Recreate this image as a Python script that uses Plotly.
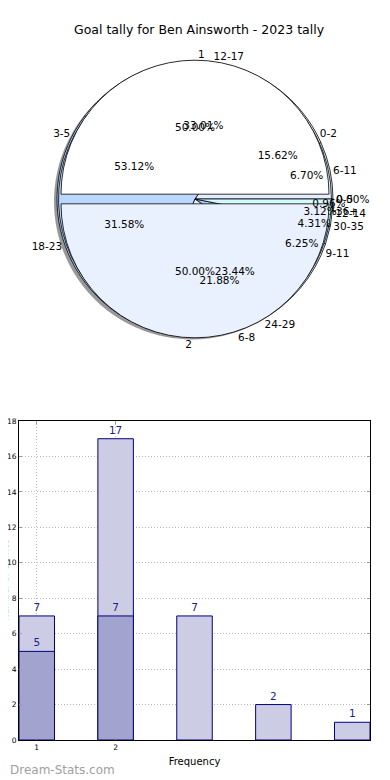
import plotly.graph_objects as go

TITLE = "Goal tally for Ben Ainsworth - 2023 tally"

# ---- pie data (three overlapping pies) ----
per_game_labels = ["1", "2"]
per_game_values = [50.0, 50.0]

band_labels = ["0-2", "3-5", "6-8", "9-11", "12-14"]
band_values = [5, 17, 7, 2, 1]

range_labels = ["0-5", "6-11", "12-17", "18-23", "24-29", "30-35", "36+"]
range_values = [0.0, 6.70, 33.01, 31.58, 23.44, 4.31, 0.96]

# ---- bar data ----
freq_x = [1, 2, 3, 4, 5]
games_all = [7, 17, 7, 2, 1]
freq_x_dark = [1, 2]
games_dark = [5, 7]
x_tick_vals = [1, 2]
x_tick_labels = ["1", "2"]
y_label = "Number of Games"
x_label = "Frequency"

# the page body has an 8px margin; the figure fills the rest of the 390x780 window
OFF = 8
W, H = 390 - OFF, 780 - OFF
CX, CY = 195, 199
FONT = "DejaVu Sans"


def fx(x):
    return (x - OFF) / W


def fy(y):
    return 1 - (y - OFF) / H


def pct(vals):
    s = float(sum(vals))
    return [f"{v / s * 100:.2f}%" for v in vals]


def start_rotation(values):
    # plotly's counterclockwise pies end the first slice at `rotation`;
    # shift so the first slice starts at 3 o'clock (matplotlib startangle=0)
    return 90 - 360.0 * values[0] / float(sum(values))


def dom(r, pull=0.0, dx=0.0, dy=0.0):
    half = r * (1 + pull)
    return dict(x=[fx(CX + dx - half), fx(CX + dx + half)],
                y=[fy(CY + dy + half), fy(CY + dy - half)])


def fill_pie(labels, values, colors, r, pull=0.0, dx=0, dy=0, line_color="black", lw=0.8, opacity=1.0):
    return go.Pie(labels=labels, values=values, sort=False, direction="counterclockwise",
                  rotation=start_rotation(values),
                  marker=dict(colors=colors, line=dict(color=line_color, width=lw)),
                  pull=pull, domain=dom(r, pull, dx, dy), textinfo="none", hoverinfo="skip",
                  showlegend=False, opacity=opacity)


def text_pie(labels, values, r, pull=0.0, inside=True):
    clear = ["rgba(0,0,0,0)"] * len(values)
    kw = dict(labels=labels, values=values, sort=False, direction="counterclockwise",
              rotation=start_rotation(values), marker=dict(colors=clear, line=dict(width=0)),
              pull=pull, domain=dom(r, pull), hoverinfo="skip", showlegend=False)
    tfont = dict(family=FONT, size=10.5, color="black")
    if inside:
        # zero-width slices cannot hold inside text; put theirs at the rim
        pos = ["outside" if v == 0 else "inside" for v in values]
        return go.Pie(text=pct(values), texttemplate="%{text}", textposition=pos,
                      insidetextorientation="horizontal",
                      insidetextfont=tfont, outsidetextfont=tfont, **kw)
    return go.Pie(texttemplate="%{label}", textposition="outside",
                  outsidetextfont=tfont, **kw)


R_UNDER = 138
R_TOP = 134
PULL = 0.036

range_colors = ["#d2faff", "#d2faff", "#eef4ff", "#b9d7ff", "#eaf1ff", "#d2faff", "#99c2ff"]
band_colors = ["#e4eeff", "#b9d7ff", "#eaf1ff", "#a9ccff", "#d2faff"]
top_colors = ["#ffffff", "#eaf1fe"]

fig = go.Figure()
# shadow
fig.add_trace(fill_pie(range_labels, range_values, ["#555555"] * 7, R_UNDER, dx=-3, dy=2.5,
                       line_color="#555555", lw=0, opacity=0.6))
fig.add_trace(fill_pie(range_labels, range_values, range_colors, R_UNDER))
fig.add_trace(fill_pie(band_labels, band_values, band_colors, R_UNDER - 1.5))
fig.add_trace(fill_pie(per_game_labels, per_game_values, top_colors, R_TOP, pull=PULL))
# texts on top
fig.add_trace(text_pie(range_labels, range_values, R_UNDER, inside=True))
fig.add_trace(text_pie(band_labels, band_values, R_UNDER, inside=True))
fig.add_trace(text_pie(per_game_labels, per_game_values, R_TOP, pull=PULL, inside=True))
fig.add_trace(text_pie(range_labels, range_values, R_UNDER, inside=False))
fig.add_trace(text_pie(band_labels, band_values, R_UNDER, inside=False))
fig.add_trace(text_pie(per_game_labels, per_game_values, R_TOP, pull=PULL, inside=False))

NAVY = "#000080"
fig.add_trace(go.Bar(x=freq_x, y=games_all, width=0.45,
                     marker=dict(color="#ccccE4", line=dict(color=NAVY, width=1)),
                     text=games_all, textposition="outside", cliponaxis=False,
                     textfont=dict(family=FONT, size=10.5, color="#1c1c8c"),
                     hoverinfo="skip", showlegend=False))
fig.add_trace(go.Bar(x=freq_x_dark, y=games_dark, width=0.45,
                     marker=dict(color="#a3a3cf", line=dict(color=NAVY, width=1)),
                     text=games_dark, textposition="outside", cliponaxis=False,
                     textfont=dict(family=FONT, size=10.5, color="#1c1c8c"),
                     hoverinfo="skip", showlegend=False))

axis_common = dict(showline=True, linecolor="black", linewidth=1, mirror="ticks",
                   ticks="inside", ticklen=3, tickcolor="#999999", showgrid=True,
                   gridcolor="#bdbdbd", griddash="1px,2px", gridwidth=1, zeroline=False,
                   automargin=False,
                   tickfont=dict(family=FONT, size=7.5, color="black"))

fig.update_layout(
    width=W, height=H, margin=dict(l=0, r=0, t=0, b=0, autoexpand=False),
    paper_bgcolor="white", plot_bgcolor="white",
    barmode="overlay",
    uniformtext=dict(minsize=10.5, mode="show"),
    font=dict(family=FONT, color="black"),
    title=dict(text=TITLE, x=0.5, xanchor="center", y=fy(30), yanchor="middle",
               yref="container", font=dict(family=FONT, size=12.5, color="black")),
    xaxis=dict(domain=[fx(19), fx(370)], range=[0.775, 5.225], tickvals=x_tick_vals,
               ticktext=x_tick_labels, anchor="y",
               title=dict(text=x_label, font=dict(family=FONT, size=10, color="black"), standoff=6),
               **axis_common),
    yaxis=dict(domain=[fy(740), fy(421)], range=[0, 18], dtick=2, anchor="x",
               **axis_common),
    annotations=[
        dict(text=y_label, x=fx(5), y=fy(580), xref="paper", yref="paper",
             textangle=-90, showarrow=False, xanchor="center", yanchor="middle",
             font=dict(family=FONT, size=9, color="black")),
        dict(text="Dream-Stats.com", x=fx(8), y=fy(770), xref="paper", yref="paper",
             showarrow=False, xanchor="left", yanchor="middle",
             font=dict(family=FONT, size=12, color="#a0a0a0")),
    ],
)

fig.write_html("out.html")
